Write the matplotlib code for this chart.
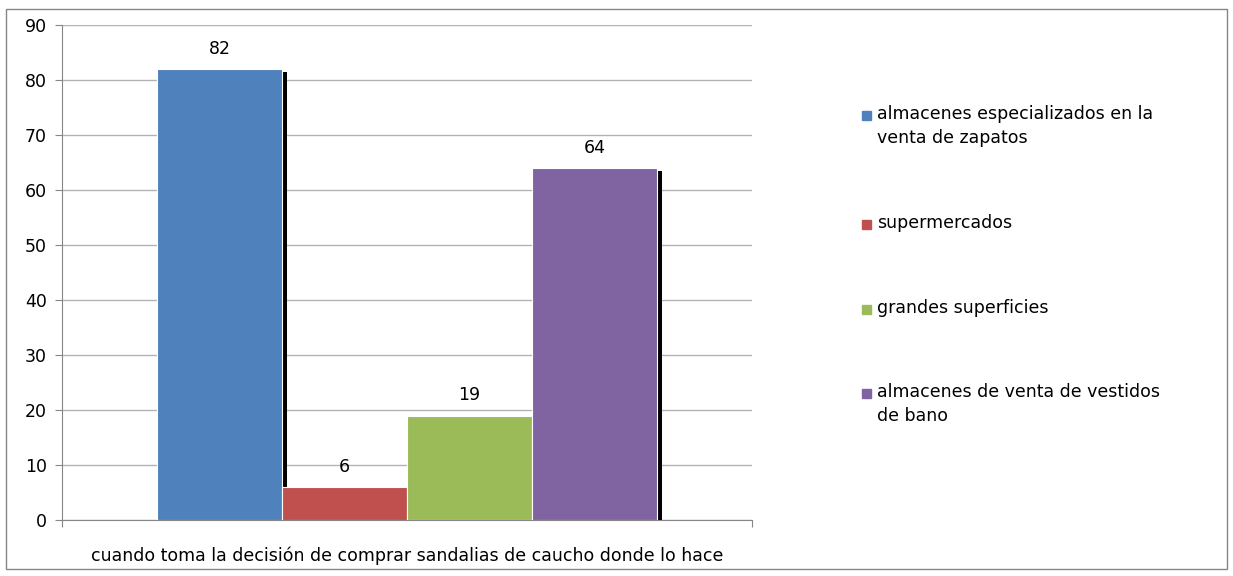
import matplotlib
matplotlib.use('Agg')
import matplotlib.pyplot as plt
import matplotlib.transforms as mtransforms
from matplotlib.patches import Rectangle

# ── data ─────────────────────────────
series = ['almacenes especializados en la\nventa de zapatos',
          'supermercados',
          'grandes superficies',
          'almacenes de venta de vestidos\nde bano']
values = [82, 6, 19, 64]
colors = ['#4F81BD', '#C0504D', '#9BBB59', '#8064A2']
category = 'cuando toma la decisión de comprar sandalias de caucho donde lo hace'
y_ticks = list(range(0, 91, 10))

W, H = 1233, 576
FS = 12.5
plt.rcParams['font.family'] = ['DejaVu Sans']

fig = plt.figure(figsize=(W / 100, H / 100), dpi=100)
fig.patch.set_facecolor('white')

# outer chart border
fig.add_artist(Rectangle((6 / W, 1 - 569 / H), (1227 - 6) / W, (569 - 9) / H,
                         transform=fig.transFigure, fill=False,
                         edgecolor='#868686', linewidth=1.0))

ax = fig.add_axes([62 / W, 1 - 520 / H, (752 - 62) / W, (520 - 25) / H])
ax.set_xlim(-1.262, 4.262)
ax.set_ylim(0, 90)

xs = list(range(len(values)))
shadow_tf = mtransforms.offset_copy(ax.transData, fig=fig, x=5, y=-3, units='dots')
for i, (x, v, c) in enumerate(zip(xs, values, colors)):
    ax.bar(x, v, width=1.0, color='black', transform=shadow_tf, zorder=2 + 2 * i)
    ax.bar(x, v, width=1.0, color=c, edgecolor='white', linewidth=0.8, zorder=3 + 2 * i)
    ax.annotate(str(v), (x, v), xytext=(0, 11), textcoords='offset pixels',
                ha='center', va='bottom', fontsize=FS, zorder=20)

ax.set_axisbelow(True)
ax.yaxis.grid(True, color='#b3b3b3', linewidth=1.0)
ax.set_yticks(y_ticks)
ax.tick_params(axis='y', length=5, color='#868686', pad=6, labelsize=FS)

ax.set_xticks([-1.262, 4.262])
ax.set_xticklabels(['', ''])
ax.tick_params(axis='x', length=5, color='#868686')
ax.set_xticks([1.5], minor=True)
ax.set_xticklabels([category], minor=True)
ax.tick_params(axis='x', which='minor', length=0, pad=19, labelsize=FS)

for s in ['top', 'right']:
    ax.spines[s].set_visible(False)
for s in ['left', 'bottom']:
    ax.spines[s].set_color('#868686')

# legend drawn in figure pixels
leg_y = [115, 224, 309, 393]
for y, lab, c in zip(leg_y, series, colors):
    fig.add_artist(Rectangle((862 / W, 1 - (y + 4.5) / H), 9 / W, 9 / H,
                             transform=fig.transFigure, color=c))
    fig.text(877 / W, 1 - (y - 10) / H, lab, ha='left', va='top',
             fontsize=FS, linespacing=1.4)

fig.savefig('out.png', dpi=100)
